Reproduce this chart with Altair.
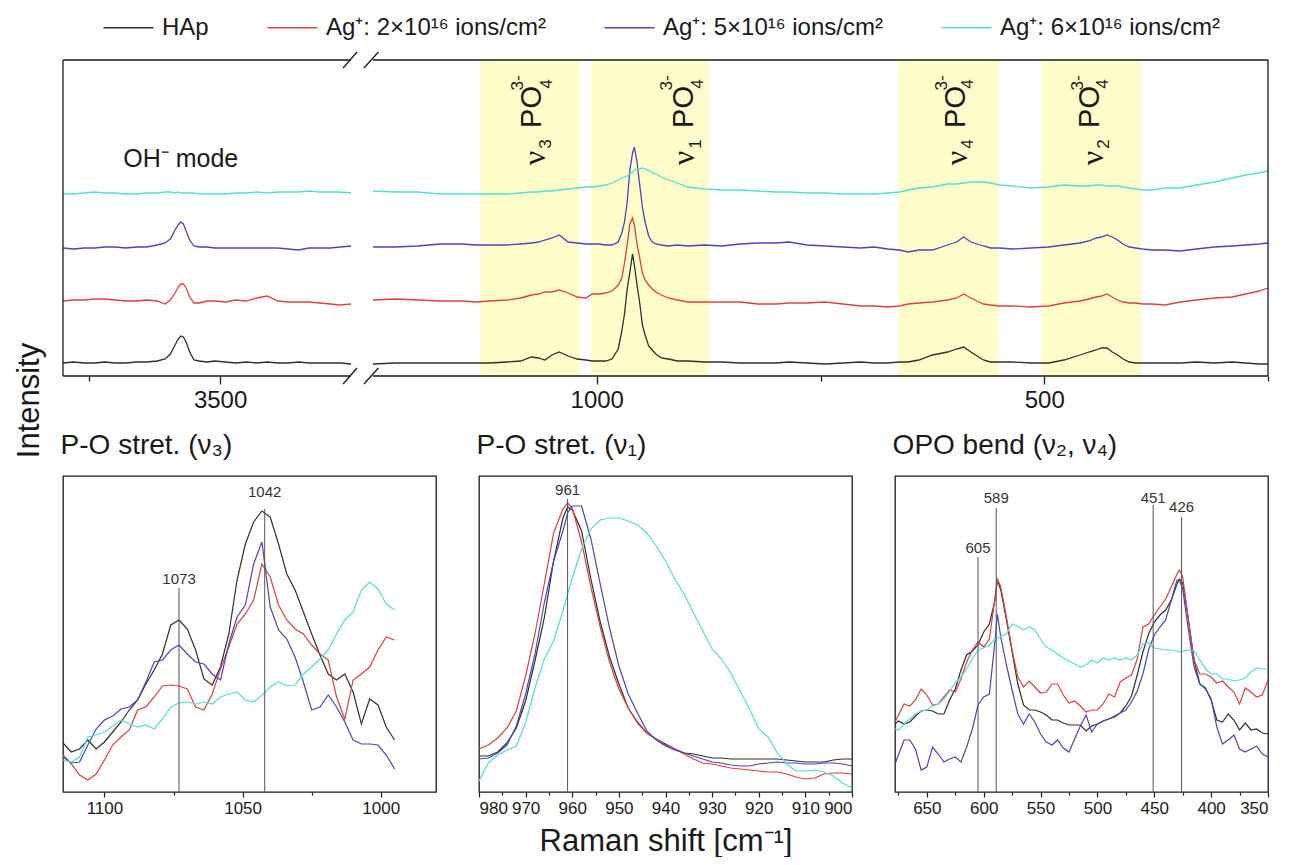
import altair as alt
import pandas as pd

FONT = "Liberation Sans"
INK = "#1a1a1a"

SERIES = ["HAp", "Ag⁺: 2×10¹⁶ ions/cm²", "Ag⁺: 5×10¹⁶ ions/cm²", "Ag⁺: 6×10¹⁶ ions/cm²"]
COLORS = ["#2f2f2f", "#e0403c", "#4a44c4", "#4fe0d6"]

# ---------------- top panel: OH- region (Raman shift, cm-1) ----------------
TOP_L_X = [3800, 3780, 3760, 3740, 3720, 3700, 3680, 3660, 3640, 3620,
           3605, 3595, 3586, 3580, 3575, 3570, 3565, 3558, 3550, 3540,
           3525, 3510, 3490, 3470, 3450, 3430, 3410, 3390, 3370, 3350,
           3330, 3310, 3290, 3270, 3250]
TOP_L_HAP = [13, 14, 13, 13, 14, 13, 13, 14, 14, 15,
             17, 22, 31, 37, 40, 39, 34, 24, 16, 15,
             14, 15, 14, 13, 14, 13, 14, 13, 13, 14,
             13, 13, 13, 13, 12]
TOP_L_AG2 = [75, 76, 76, 77, 77, 76, 75, 75, 76, 75,
             72, 76, 83, 89, 92, 92, 88, 79, 73, 73,
             75, 75, 74, 76, 75, 78, 80, 75, 74, 74,
             74, 73, 72, 71, 72]
TOP_L_AG5 = [128, 127, 128, 128, 129, 129, 128, 129, 129, 131,
             133, 137, 146, 151, 154, 152, 145, 136, 130, 129,
             129, 128, 128, 128, 128, 128, 128, 128, 127, 126,
             128, 128, 128, 129, 130]
TOP_L_AG6 = [182, 182, 183, 184, 183, 183, 182, 182, 183, 183,
             184, 184, 183, 184, 183, 183, 183, 183, 183, 182,
             182, 182, 182, 183, 183, 184, 183, 184, 184, 184,
             185, 184, 184, 184, 183]

# ---------------- top panel: phosphate region ----------------
TOP_R_X = [1250, 1225, 1200, 1175, 1150, 1135, 1120, 1100, 1085, 1073,
           1065, 1058, 1050, 1042, 1032, 1022, 1012, 1005, 998, 990,
           983, 976, 972, 969, 966, 963, 960, 958, 955, 952,
           949, 946, 942, 938, 934, 928, 920, 910, 898, 880,
           860, 840, 820, 800, 785, 765, 745, 725, 705, 690,
           675, 662, 652, 640, 625, 608, 598, 590, 582, 575,
           568, 560, 550, 535, 515, 495, 478, 460, 450, 442,
           436, 430, 424, 418, 412, 405, 398, 390, 380, 365,
           348, 330, 310, 290, 275, 260, 250]
TOP_R_HAP = [12, 13, 13, 13, 13, 13, 13, 14, 15, 19,
             18, 16, 21, 24, 20, 17, 16, 15, 15, 15,
             17, 27, 45, 62, 87, 104, 122, 111, 91, 73,
             51, 41, 30, 26, 22, 18, 17, 15, 15, 14,
             14, 13, 13, 13, 14, 13, 12, 13, 14, 13,
             13, 14, 14, 16, 21, 24, 27, 29, 24, 20,
             16, 14, 14, 14, 13, 13, 16, 21, 24, 26,
             28, 28, 24, 21, 17, 14, 13, 13, 13, 13,
             13, 14, 13, 14, 13, 12, 12]
TOP_R_AG2 = [76, 77, 76, 75, 75, 74, 75, 76, 78, 81,
             82, 84, 84, 86, 83, 79, 78, 82, 82, 83,
             85, 91, 98, 113, 131, 152, 158, 151, 132, 118,
             103, 96, 91, 87, 84, 81, 78, 76, 74, 74,
             74, 74, 72, 72, 73, 73, 74, 72, 70, 70,
             69, 70, 72, 73, 74, 76, 78, 82, 78, 75,
             72, 71, 70, 70, 69, 70, 73, 75, 77, 79,
             80, 82, 79, 76, 74, 73, 73, 72, 72, 71,
             74, 76, 78, 79, 82, 85, 88]
TOP_R_AG5 = [129, 129, 130, 132, 132, 131, 131, 131, 132, 133,
             134, 136, 138, 141, 134, 133, 132, 132, 132, 131,
             131, 134, 143, 154, 174, 206, 223, 229, 214, 191,
             169, 154, 140, 134, 132, 131, 130, 131, 130, 131,
             130, 132, 133, 133, 134, 131, 130, 129, 128, 129,
             127, 126, 124, 126, 126, 131, 134, 139, 134, 132,
             130, 128, 128, 127, 128, 129, 131, 133, 135, 138,
             139, 141, 139, 136, 132, 129, 128, 127, 126, 126,
             125, 127, 129, 130, 131, 132, 133]
TOP_R_AG6 = [185, 184, 184, 182, 182, 182, 182, 182, 183, 184,
             184, 185, 185, 186, 187, 188, 189, 189, 190, 191,
             193, 196, 198, 199, 200, 202, 204, 206, 207, 207,
             208, 207, 206, 203, 202, 199, 196, 193, 189, 187,
             186, 186, 185, 184, 184, 183, 183, 182, 182, 182,
             183, 184, 186, 188, 189, 192, 192, 193, 194, 194,
             194, 193, 191, 190, 188, 189, 191, 190, 190, 191,
             191, 190, 190, 190, 189, 188, 187, 186, 186, 188,
             188, 191, 194, 198, 201, 203, 205]

# ---------------- bottom panel 1: P-O stretching nu3 ----------------
P1_X = [1115, 1112, 1109, 1106, 1103, 1100, 1097, 1094, 1091, 1088,
        1085, 1082, 1079, 1076, 1073, 1070, 1067, 1064, 1061, 1058,
        1055, 1052, 1049, 1046, 1043, 1040, 1037, 1034, 1031, 1028,
        1025, 1022, 1019, 1016, 1013, 1010, 1007, 1004, 1001, 998, 995]
P1_HAP = [49, 40, 43, 52, 43, 50, 60, 70, 82, 92,
          108, 122, 138, 167, 172, 163, 142, 113, 107, 125,
          158, 212, 248, 270, 281, 275, 248, 218, 202, 180,
          158, 137, 118, 112, 118, 100, 68, 93, 87, 65, 52]
P1_AG2 = [37, 28, 17, 12, 18, 32, 47, 55, 62, 82,
          85, 95, 106, 107, 106, 103, 85, 82, 98, 123,
          145, 168, 178, 192, 228, 215, 187, 172, 163, 158,
          147, 138, 132, 95, 73, 112, 118, 125, 142, 155, 152]
P1_AG5 = [35, 29, 30, 47, 63, 72, 76, 83, 85, 92,
          110, 130, 132, 142, 147, 138, 130, 128, 118, 112,
          148, 175, 187, 228, 250, 185, 162, 153, 135, 110,
          82, 85, 97, 85, 70, 52, 48, 48, 47, 37, 23]
P1_AG6 = [32, 30, 35, 55, 57, 60, 66, 72, 68, 65,
          67, 63, 73, 85, 89, 90, 88, 90, 88, 95,
          98, 100, 92, 90, 97, 105, 110, 106, 107, 118,
          125, 133, 142, 158, 172, 180, 202, 210, 203, 188, 182]

# ---------------- bottom panel 2: P-O stretching nu1 ----------------
P2_X = [980, 978, 976, 974, 972, 970, 968, 966, 964, 962,
        961,
        960, 958, 956, 954, 952, 950, 948, 946, 944, 942,
        940, 938, 936, 934, 932, 930, 928, 926, 924, 922,
        920, 918, 916, 914, 912, 910, 908, 906, 904, 902,
        900]
P2_HAP = [36, 36, 40, 49, 64, 91, 131, 174, 231, 274,
          285,
          282, 261, 213, 170, 135, 108, 84, 69, 59, 53,
          48, 43, 39, 38, 36, 34, 34, 33, 33, 33,
          33, 33, 33, 32, 31, 30, 30, 30, 32, 33,
          33]
P2_AG2 = [43, 47, 54, 64, 81, 116, 158, 208, 259, 283,
          289,
          284, 250, 205, 165, 130, 103, 84, 70, 59, 53,
          47, 43, 38, 33, 29, 28, 26, 24, 23, 22,
          21, 20, 20, 18, 15, 13, 14, 18, 19, 19,
          18]
P2_AG5 = [33, 34, 39, 47, 66, 98, 138, 189, 231, 261,
          279,
          286, 286, 253, 208, 164, 126, 98, 79, 61, 52,
          46, 42, 39, 36, 33, 30, 29, 27, 26, 26,
          28, 29, 30, 29, 29, 28, 28, 29, 29, 28,
          26]
P2_AG6 = [11, 29, 37, 42, 46, 69, 104, 133, 151, 181,
          198,
          214, 243, 263, 272, 274, 274, 271, 267, 259, 246,
          231, 213, 198, 179, 161, 143, 133, 119, 101, 83,
          63, 55, 39, 28, 21, 21, 22, 20, 16, 9,
          4]

# ---------------- bottom panel 3: O-P-O bending nu2, nu4 ----------------
P3_X = [678, 675, 670, 665, 660, 655, 650, 645, 640, 635,
        630, 625, 620, 615, 610, 605, 600, 595, 590, 588,
        585, 580, 575, 570, 565, 560, 555, 550, 545, 540,
        535, 530, 525, 520, 515, 510, 505, 500, 495, 490,
        485, 480, 475, 470, 465, 460, 455, 450, 445, 440,
        435, 430, 428, 425, 420, 415, 410, 405, 400, 395,
        390, 385, 380, 375, 370, 365, 360, 355, 350]
P3_HAP = [68, 71, 68, 70, 76, 81, 82, 81, 78, 78,
          92, 103, 122, 137, 141, 147, 160, 168, 192, 212,
          202, 172, 140, 108, 87, 82, 82, 80, 77, 72,
          72, 69, 67, 67, 67, 61, 66, 68, 71, 73,
          75, 79, 86, 96, 117, 140, 158, 170, 177, 182,
          192, 208, 213, 209, 172, 132, 108, 104, 92, 72,
          70, 78, 72, 62, 69, 62, 63, 59, 58]
P3_AG2 = [70, 77, 88, 86, 92, 103, 97, 87, 88, 95,
          102, 100, 113, 130, 142, 150, 145, 153, 195, 213,
          205, 175, 142, 115, 105, 111, 105, 99, 100, 108,
          108, 97, 89, 91, 86, 80, 82, 82, 88, 98,
          95, 110, 114, 117, 133, 165, 168, 177, 185, 193,
          205, 218, 222, 215, 172, 132, 118, 118, 115, 109,
          111, 105, 100, 88, 104, 100, 95, 97, 112]
P3_AG5 = [28, 37, 52, 52, 43, 22, 25, 45, 38, 30,
          33, 35, 30, 45, 63, 87, 95, 98, 152, 178,
          155, 127, 102, 78, 68, 78, 70, 58, 50, 47,
          52, 44, 40, 53, 66, 77, 60, 68, 71, 73,
          76, 79, 82, 90, 101, 118, 142, 157, 165, 172,
          192, 212, 212, 203, 162, 125, 108, 103, 93, 65,
          48, 52, 57, 43, 40, 43, 46, 38, 35]
P3_AG6 = [63, 62, 68, 73, 78, 81, 82, 86, 88, 93,
          101, 109, 115, 123, 133, 142, 144, 147, 153, 154,
          156, 158, 168, 166, 162, 165, 162, 153, 145, 142,
          138, 134, 131, 128, 125, 127, 132, 129, 134, 132,
          134, 132, 134, 132, 137, 148, 149, 144, 143, 142,
          142, 141, 140, 141, 142, 141, 132, 123, 118, 118,
          113, 113, 111, 112, 114, 120, 124, 123, 123]

# ---------------- annotations (data units) ----------------
BAND_FROM = [1130, 1006, 663, 503]
BAND_TO = [1019, 875, 551, 392]
PO_X = [1072, 903, 599, 449]
CHARGE_X = [1088, 922, 614, 462]
SUB4_X = [1056, 887, 585, 434]
NU_X = [1069, 902, 597, 445]
NU_SUB_X = [1057, 889, 585, 433]
NU_SUB = ["3", "1", "4", "2"]

P1_PEAKS = [1073, 1042]
P1_PEAK_TOP = [204, 283]
P1_PEAK_LABEL = [213, 300]
P2_PEAKS = [961]
P2_PEAK_TOP = [293]
P2_PEAK_LABEL = [302]
P3_PEAKS = [605, 589, 451, 426]
P3_PEAK_TOP = [235, 284, 287, 275]
P3_PEAK_LABEL = [244, 294, 294, 285]

TOP_TICKS = [3750, 3500, 1000, 750, 500, 250]
P1_TICKS = [1100, 1075, 1050, 1025, 1000]
P2_TICKS = [980, 975, 970, 965, 960, 955, 950, 945, 940, 935, 930, 925, 920, 915, 910, 905, 900]
P3_TICKS = [675, 650, 625, 600, 575, 550, 525, 500, 475, 450, 425, 400, 375, 350]


def long_df(xs, cols, seg):
    rows = []
    for name, ys in zip(SERIES, cols):
        for x, y in zip(xs, ys):
            rows.append({"x": x, "v": y, "series": name, "seg": seg})
    return pd.DataFrame(rows)


COLOR_SCALE = alt.Scale(domain=SERIES, range=COLORS)
TOP_XS = alt.Scale(domain=[3800, 3250, 1250, 250], range=[0, 288, 310, 1205], nice=False, zero=False)
TOP_YS = alt.Scale(domain=[0, 316], nice=False, zero=False)

top_df = pd.concat([
    long_df(TOP_L_X, [TOP_L_HAP, TOP_L_AG2, TOP_L_AG5, TOP_L_AG6], "L"),
    long_df(TOP_R_X, [TOP_R_HAP, TOP_R_AG2, TOP_R_AG5, TOP_R_AG6], "R"),
])

TOP_XAXIS = alt.Axis(
    values=TOP_TICKS, format="d",
    labelExpr="datum.value % 500 === 0 ? datum.label : ''",
    tickSize={"condition": {"test": "datum.value % 500 === 0", "value": 8}, "value": 5},
    domain=False, grid=False, title=None, labelFontSize=24, labelPadding=4,
    tickColor=INK, tickWidth=1.3, labelColor=INK, labelFont=FONT,
)
TOP_YAXIS = alt.Axis(
    title="Intensity", labels=False, ticks=False, domain=False, grid=False,
    titleFontSize=31, titleFontWeight="normal", titleFont=FONT, titleColor=INK,
    titleX=-25, titleY=340, titleAngle=270, titleAlign="center", titleBaseline="alphabetic",
)
legend = alt.Legend(
    orient="none", legendX=52, legendY=-46, direction="horizontal", title=None,
    symbolType="M-2,0H2", symbolSize=625, symbolStrokeWidth=1.5,
    labelFontSize=24, labelFont=FONT, labelColor=INK, columnPadding=55,
    labelOffset=20, padding=0, labelLimit=500,
)


def X(field):
    return alt.X(field, type="quantitative", scale=TOP_XS, axis=TOP_XAXIS)


def Y(field):
    return alt.Y(field, type="quantitative", scale=TOP_YS, axis=TOP_YAXIS)


bands = alt.Chart(pd.DataFrame({"x1": BAND_FROM, "x2": BAND_TO})).mark_rect(
    color="#fefcc8").encode(x=X("x1"), x2="x2")

top_lines = alt.Chart(top_df).mark_line(strokeWidth=1.3).encode(
    x=X("x"),
    y=Y("v"),
    color=alt.Color("series:N", scale=COLOR_SCALE, legend=legend),
    detail="seg:N",
)

frame_h = alt.Chart(pd.DataFrame({
    "x1": [3800, 1250, 3800, 1250], "x2": [3250, 250, 3250, 250], "yy": [316, 316, 0, 0]
})).mark_rule(color=INK, strokeWidth=1.3).encode(x=X("x1"), x2="x2", y=Y("yy"))
frame_v = alt.Chart(pd.DataFrame({"x": [3800, 250], "y0": [0, 0], "y1": [316, 316]})).mark_rule(
    color=INK, strokeWidth=1.3).encode(x=X("x"), y=Y("y0"), y2="y1")
breaks = alt.Chart(pd.DataFrame({
    "x1": [3265, 2068, 3265, 2068], "x2": [2705, 1244, 2705, 1244],
    "y1": [-8, -8, 308, 308], "y2": [8, 8, 324, 324]
})).mark_rule(color=INK, strokeWidth=1.3).encode(x=X("x1"), x2="x2", y=Y("y1"), y2="y2")

oh_text = alt.Chart(pd.DataFrame({"x": [3685], "v": [209], "t": ["OH⁻ mode"]})).mark_text(
    align="left", baseline="alphabetic", fontSize=25, font=FONT, color=INK
).encode(x=X("x"), y=Y("v"), text="t:N")

po_text = alt.Chart(pd.DataFrame({"x": PO_X, "v": [269] * 4, "t": ["PO"] * 4})).mark_text(
    angle=270, align="center", baseline="middle", fontSize=29, font=FONT, color=INK
).encode(x=X("x"), y=Y("v"), text="t:N")
charge_text = alt.Chart(pd.DataFrame({"x": CHARGE_X, "v": [293] * 4, "t": ["3-"] * 4})).mark_text(
    angle=270, align="center", baseline="middle", fontSize=17, font=FONT, color=INK
).encode(x=X("x"), y=Y("v"), text="t:N")
sub4_text = alt.Chart(pd.DataFrame({"x": SUB4_X, "v": [292] * 4, "t": ["4"] * 4})).mark_text(
    angle=270, align="center", baseline="middle", fontSize=17, font=FONT, color=INK
).encode(x=X("x"), y=Y("v"), text="t:N")
nu_text = alt.Chart(pd.DataFrame({"x": NU_X, "v": [218] * 4, "t": ["ν"] * 4})).mark_text(
    angle=270, align="center", baseline="middle", fontSize=32, font="Liberation Serif", color=INK
).encode(x=X("x"), y=Y("v"), text="t:N")
nusub_text = alt.Chart(pd.DataFrame({"x": NU_SUB_X, "v": [232] * 4, "t": NU_SUB})).mark_text(
    angle=270, align="center", baseline="middle", fontSize=17, font=FONT, color=INK
).encode(x=X("x"), y=Y("v"), text="t:N")

top = alt.layer(
    bands, top_lines, frame_h, frame_v, breaks, oh_text,
    po_text, charge_text, sub4_text, nu_text, nusub_text
).properties(width=1205, height=316, view=alt.ViewBackground(stroke=None))


def panel(xs, cols, dom, ticks, major, title, peaks, tops, labs, xtitle=None):
    xs_scale = alt.Scale(domain=dom, nice=False, zero=False)
    ys_scale = alt.Scale(domain=[0, 316], nice=False, zero=False)
    df = long_df(xs, cols, "A")
    axis_kw = dict(
        values=ticks, format="d",
        labelExpr="datum.value %% %d === 0 ? datum.label : ''" % major,
        tickSize={"condition": {"test": "datum.value %% %d === 0" % major, "value": 5}, "value": 3},
        domain=False, grid=False, labelFontSize=17, labelPadding=3,
        tickColor=INK, tickWidth=1.2, labelColor=INK, labelFont=FONT,
    )
    if xtitle:
        axis_kw.update(title=xtitle, titleFontSize=31, titleFontWeight="normal", titleFont=FONT,
                       titleColor=INK, titlePadding=10)
    else:
        axis_kw.update(title=None)
    xaxis = alt.Axis(**axis_kw)
    lines = alt.Chart(df).mark_line(strokeWidth=1.2).encode(
        x=alt.X("x:Q", scale=xs_scale, axis=xaxis),
        y=alt.Y("v:Q", scale=ys_scale, axis=None),
        color=alt.Color("series:N", scale=COLOR_SCALE, legend=None),
    )
    pk = pd.DataFrame({"x": peaks, "top": tops, "lab": labs, "y0": [0] * len(peaks),
                       "t": [str(p) for p in peaks]})
    rules = alt.Chart(pk).mark_rule(color="#555555", strokeWidth=1).encode(
        x=alt.X("x:Q", scale=xs_scale, axis=xaxis),
        y=alt.Y("top:Q", scale=ys_scale, axis=None), y2="y0")
    texts = alt.Chart(pk).mark_text(fontSize=15, font=FONT, color="#333333", baseline="middle").encode(
        x=alt.X("x:Q", scale=xs_scale, axis=xaxis),
        y=alt.Y("lab:Q", scale=ys_scale, axis=None), text="t:N")
    return alt.layer(lines, rules, texts).properties(
        width=373, height=316,
        title=alt.TitleParams(title, anchor="start", fontSize=28, fontWeight="normal",
                              font=FONT, color=INK, offset=16),
    )


p1 = panel(P1_X, [P1_HAP, P1_AG2, P1_AG5, P1_AG6], [1115, 980], P1_TICKS, 50,
           "P-O stret. (ν₃)", P1_PEAKS, P1_PEAK_TOP, P1_PEAK_LABEL)
p2 = panel(P2_X, [P2_HAP, P2_AG2, P2_AG5, P2_AG6], [980, 900], P2_TICKS, 10,
           "P-O stret. (ν₁)", P2_PEAKS, P2_PEAK_TOP, P2_PEAK_LABEL, xtitle="Raman shift [cm⁻¹]")
p3 = panel(P3_X, [P3_HAP, P3_AG2, P3_AG5, P3_AG6], [678, 350], P3_TICKS, 50,
           "OPO bend (ν₂, ν₄)", P3_PEAKS, P3_PEAK_TOP, P3_PEAK_LABEL)

bottom = alt.hconcat(p1, p2, p3, spacing=43, bounds="flush")

chart = alt.vconcat(top, bottom, spacing=100, bounds="flush").resolve_scale(
    color="independent"
).properties(
    padding={"left": 5, "top": 6, "right": 5, "bottom": 0}
).configure(
    font=FONT, background="white"
).configure_view(
    stroke=INK, strokeWidth=1.3
)

chart.save("out.html", embed_options={"renderer": "svg", "actions": False})
